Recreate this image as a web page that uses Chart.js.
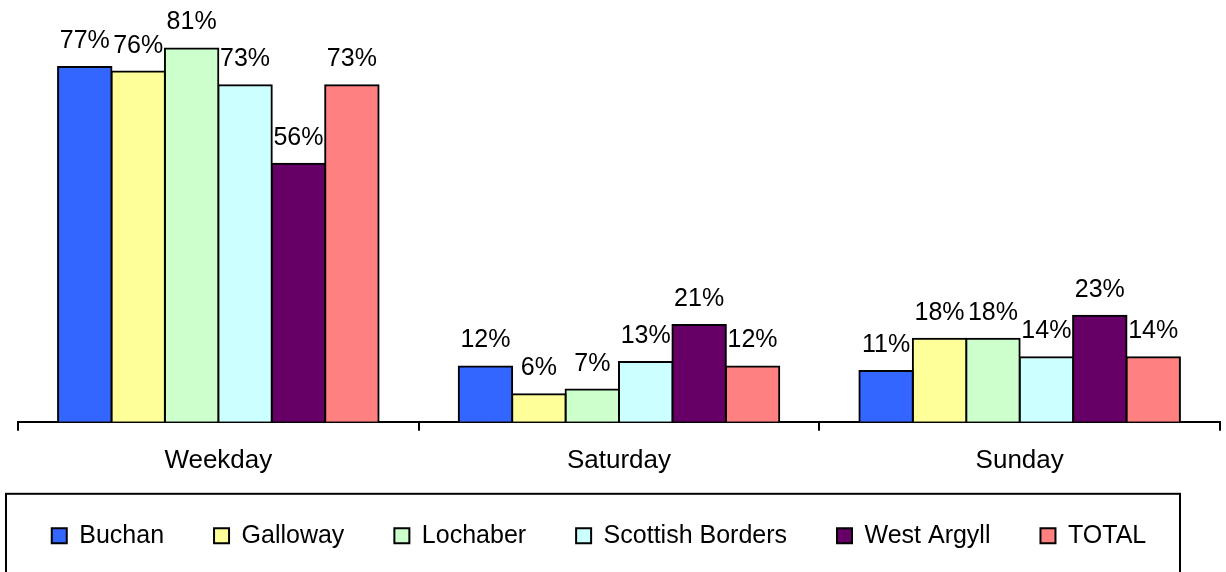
<!DOCTYPE html>
<html>
<head>
<meta charset="utf-8">
<script src="https://cdn.jsdelivr.net/npm/chart.js@4"></script>
<style>
  html, body { margin: 0; padding: 0; background: #fff; overflow: hidden; }
  #wrap { width: 1226px; height: 572px; }
</style>
</head>
<body>
<div id="wrap"><canvas id="barChart" width="1226" height="572"></canvas></div>
<script>
const categories = ['Weekday', 'Saturday', 'Sunday']
const seriesNames = ['Buchan', 'Galloway', 'Lochaber', 'Scottish Borders', 'West Argyll', 'TOTAL']
const buchan = [77, 12, 11]
const galloway = [76, 6, 18]
const lochaber = [81, 7, 18]
const scottishBorders = [73, 13, 14]
const westArgyll = [56, 21, 23]
const total = [73, 12, 14]
const colours = ['#3366FF', '#FFFF99', '#CCFFCC', '#CCFFFF', '#660066', '#FF8080']

const FAMILY = '"Liberation Sans", Arial, sans-serif'
const FONT = {family: FAMILY, size: 25}

// value labels above each bar
const barLabels = {
  id: 'barLabels',
  afterDatasetsDraw(chart) {
    const ctx = chart.ctx
    ctx.save()
    ctx.font = FONT.size + 'px ' + FAMILY
    ctx.fillStyle = '#000'
    ctx.textAlign = 'center'
    ctx.textBaseline = 'alphabetic'
    chart.data.datasets.forEach((ds, i) => {
      chart.getDatasetMeta(i).data.forEach((bar, j) => {
        ctx.fillText(ds.data[j] + '%', bar.x, bar.y - 19)
      })
    })
    ctx.restore()
  }
}

// legend sits a bit left of centre, 114px under the axis, with a frame round it
const legendFrame = {
  id: 'legendFrame',
  afterLayout(chart) {
    const lg = chart.legend
    const pad = lg.options.labels.padding
    const dy = (chart.chartArea.bottom + 114 - FONT.size / 2 - pad) - lg.top
    lg.top += dy
    lg.bottom += dy
    lg.left -= 20
    lg.right -= 20
  },
  afterDraw(chart) {
    const ctx = chart.ctx
    ctx.save()
    ctx.strokeStyle = '#000'
    ctx.lineWidth = 2
    ctx.strokeRect(6, chart.chartArea.bottom + 72, 1174, 120)
    ctx.restore()
  }
}

const allSeries = [buchan, galloway, lochaber, scottishBorders, westArgyll, total]

new Chart(document.getElementById('barChart'), {
  type: 'bar',
  data: {
    labels: categories,
    datasets: allSeries.map((values, i) => ({
      label: seriesNames[i],
      data: values,
      backgroundColor: colours[i],
      borderColor: '#000',
      borderWidth: 2,
      borderSkipped: 'start',
      inflateAmount: 1,
      categoryPercentage: 0.8,
      barPercentage: 1
    }))
  },
  options: {
    responsive: false,
    animation: false,
    layout: {padding: {left: 18, right: 6, top: 7, bottom: 0}},
    scales: {
      x: {
        z: 1,
        grid: {offset: true, drawOnChartArea: false, tickLength: 9, color: '#000', lineWidth: 2},
        border: {color: '#000', width: 2},
        ticks: {color: '#000', font: {family: FAMILY, size: 26}, padding: 14}
      },
      y: {display: false, min: 0, max: 90}
    },
    plugins: {
      tooltip: {enabled: false},
      legend: {
        position: 'bottom',
        maxHeight: 82,
        labels: {color: '#000', font: FONT, boxWidth: 15, boxHeight: 15, padding: 50}
      }
    }
  },
  plugins: [barLabels, legendFrame]
})
</script>
</body>
</html>
